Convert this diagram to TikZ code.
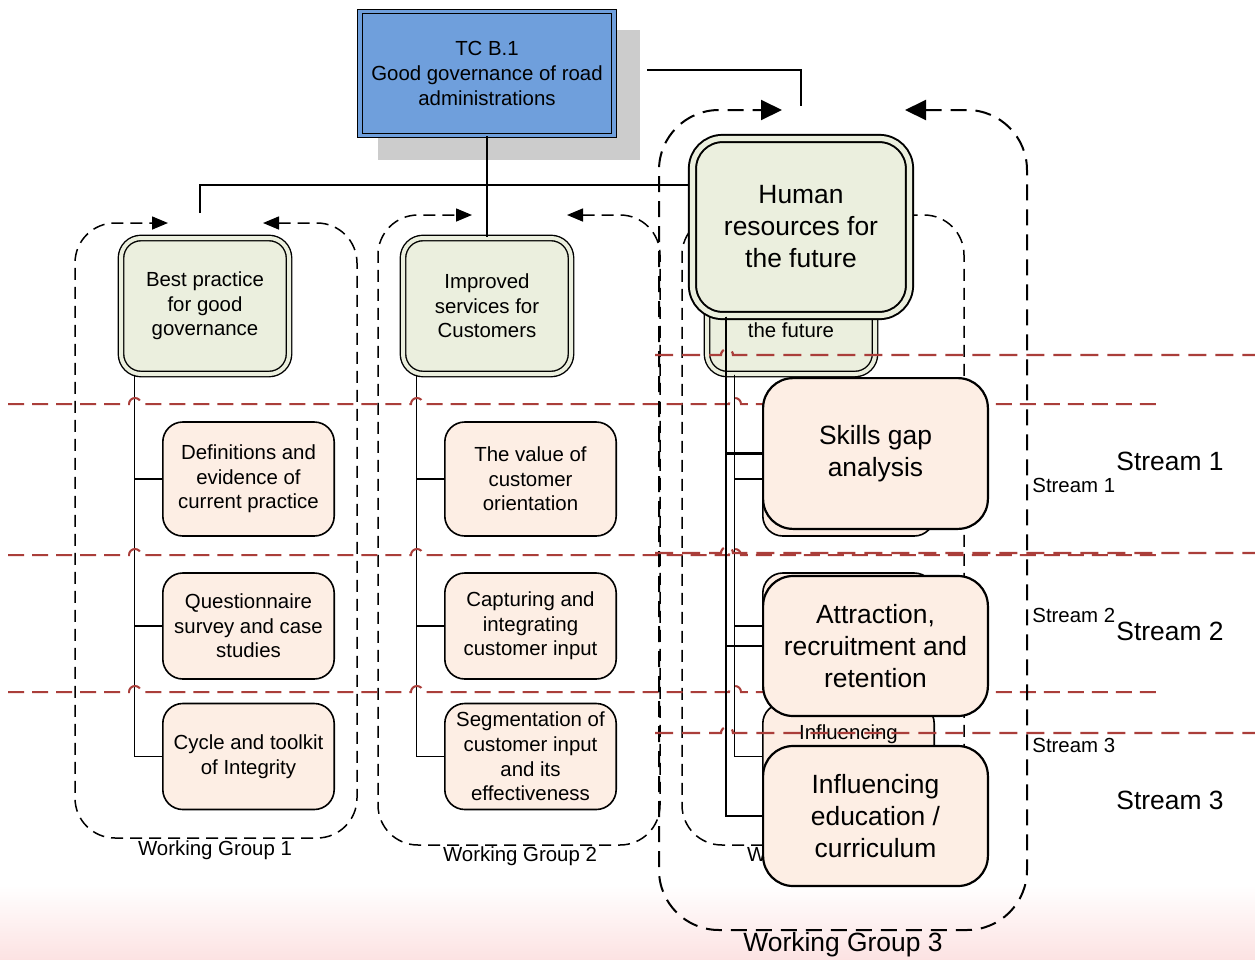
\documentclass[tikz,border=0pt]{standalone}
\usepackage{fontspec}
\setmainfont{Liberation Sans}
\usepackage{tikz}
\usetikzlibrary{positioning,arrows.meta}

\definecolor{tcblue}{RGB}{111,159,220}
\definecolor{headgreen}{RGB}{235,239,222}
\definecolor{taskpeach}{RGB}{253,238,228}
\definecolor{streamred}{RGB}{170,62,58}
\definecolor{shadowgray}{RGB}{204,204,204}
\definecolor{fadepink}{RGB}{252,226,226}

\newcommand{\smalltext}{\fontsize{10.2}{12.3}\selectfont}
\newcommand{\bigtext}{\fontsize{13.2}{16}\selectfont}

\tikzset{
  link/.style={line width=0.8pt},
  biglink/.style={line width=1.3pt},
  tcbox/.style={rectangle, draw, fill=tcblue, double=tcblue, double distance=1.6pt,
    line width=0.6pt, align=center, font=\smalltext, minimum width=127pt,
    minimum height=62pt, inner sep=1pt},
  wghead/.style={rectangle, rounded corners=10pt, draw, fill=headgreen, double=headgreen,
    double distance=2pt, line width=0.7pt, align=center, font=\smalltext,
    minimum width=84pt, minimum height=68pt, inner sep=1pt},
  task/.style={rectangle, rounded corners=10pt, draw, fill=taskpeach, line width=0.8pt,
    align=center, font=\smalltext, minimum width=85.7pt, inner sep=1pt},
  bighead/.style={wghead, rounded corners=15pt, double distance=2.6pt, line width=1pt,
    font=\bigtext, minimum width=108.5pt, minimum height=88.5pt},
  bigtask/.style={task, rounded corners=15pt, line width=1.1pt, font=\bigtext,
    minimum width=112.4pt},
  wgframe/.style={dash pattern=on 6pt off 3.5pt, line width=0.75pt, rounded corners=20pt,
    >={Triangle[length=8pt,width=6.5pt]}, <->},
  bigframe/.style={dash pattern=on 8pt off 4.5pt, line width=1pt, rounded corners=30pt,
    >={Triangle[length=10.5pt,width=10pt]}, <->},
  streamline/.style={draw=streamred, dash pattern=on 8pt off 4pt, line width=1pt},
  bigstreamline/.style={streamline, line width=1.1pt, dash pattern=on 9pt off 4.5pt},
  streamlabel/.style={anchor=west, inner sep=0pt},
}

\begin{document}
\begin{tikzpicture}[x=0.5pt, y=-0.5pt]

  % canvas and faded bottom
  \useasboundingbox (0,0) rectangle (1255,960);
  \fill[white] (0,0) rectangle (1255,960);
  \shade[top color=white, bottom color=fadepink] (0,885) rectangle (1255,960);

  % Top node
  \coordinate (feedA) at (647,70);
  \coordinate (feedB) at (801,106);
  \draw[link] (feedA) -| (feedB);
  \fill[shadowgray] (378,30) rectangle (640,160);
  \node[tcbox] (tc) at (487,73.5) {TC B.1\\Good governance of road\\administrations};

  % Working group 1
  \draw[wgframe] (263,223) -- (357,223) -- (357,838) -- (75,838) -- (75,223) -- (168,223);
  \node[wghead] (best) at (205,306) {Best practice\\for good\\governance};
  \node[task, minimum height=57pt] (defs) at (248.5,479) {Definitions and\\evidence of\\current practice};
  \node[task, minimum height=53pt] (quest) at (248.5,626) {Questionnaire\\survey and case\\studies};
  \node[task, minimum height=53pt] (cycle) at (248.5,756.5) {Cycle and toolkit\\of Integrity};
  \node[font=\smalltext] (wg1) at (215,850) {Working Group 1};

  % Working group 2
  \draw[wgframe] (567,215) -- (660,215) -- (660,845) -- (378,845) -- (378,215) -- (472,215);
  \node[wghead] (improved) at (487,306) {Improved\\services for\\Customers};
  \node[task, minimum height=57pt] (value) at (530.5,479) {The value of\\customer\\orientation};
  \node[task, minimum height=53pt] (capture) at (530.5,626) {Capturing and\\integrating\\customer input};
  \node[task, minimum height=53pt] (segment) at (530.5,756.5) {Segmentation of\\customer input\\and its\\effectiveness};
  \node[font=\smalltext] (wg2) at (520,856) {Working Group 2};

  % Working group 3, small
  \draw[wgframe] (871,215) -- (964,215) -- (964,845) -- (682,845) -- (682,215) -- (776,215);
  \node[wghead] (hrsmall) at (791,306) {Human\\resources for\\the future};
  \node[task, minimum height=57pt] (skillsmall) at (848.5,479) {Skills gap\\analysis};
  \node[task, minimum height=53pt] (attractsmall) at (848.5,626) {Attraction,\\recruitment and\\retention};
  \node[task, minimum height=53pt] (influsmall) at (848.5,756.5) {Influencing\\education /\\curriculum};
  \node[font=\smalltext] (wg3small) at (824,856) {Working Group 3};

  % Connect the nodes
  \coordinate (wg1top) at (200,213);
  \coordinate (busend) at (690,185);
  \draw[link] (tc.south) -- (improved.north);
  \draw[link] (wg1top) |- (busend);
  \draw[link] ([xshift=7pt]best.south west) |- (defs.west);
  \draw[link] ([xshift=7pt]best.south west) |- (quest.west);
  \draw[link] ([xshift=7pt]best.south west) |- (cycle.west);
  \draw[link] ([xshift=7pt]improved.south west) |- (value.west);
  \draw[link] ([xshift=7pt]improved.south west) |- (capture.west);
  \draw[link] ([xshift=7pt]improved.south west) |- (segment.west);
  \draw[link] ([xshift=14pt]hrsmall.south west) |- (skillsmall.west);
  \draw[link] ([xshift=14pt]hrsmall.south west) |- (attractsmall.west);
  \draw[link] ([xshift=14pt]hrsmall.south west) |- (influsmall.west);

  % Stream borders, small
  \draw[streamline] (8,404) -- (129,404) arc[start angle=180, end angle=360, radius=6]
    -- (411,404) arc[start angle=180, end angle=360, radius=6]
    -- (729,404) arc[start angle=180, end angle=360, radius=6] -- (1160,404);
  \draw[streamline] (8,555) -- (129,555) arc[start angle=180, end angle=360, radius=6]
    -- (411,555) arc[start angle=180, end angle=360, radius=6]
    -- (729,555) arc[start angle=180, end angle=360, radius=6] -- (1160,555);
  \draw[streamline] (8,692) -- (129,692) arc[start angle=180, end angle=360, radius=6]
    -- (411,692) arc[start angle=180, end angle=360, radius=6]
    -- (729,692) arc[start angle=180, end angle=360, radius=6] -- (1160,692);
  \node[streamlabel, font=\smalltext] (s1small) at (1032,485) {Stream 1};
  \node[streamlabel, font=\smalltext] (s2small) at (1032,615) {Stream 2};
  \node[streamlabel, font=\smalltext] (s3small) at (1032,745) {Stream 3};

  % Working group 3, zoomed
  \draw[bigframe] (905,110) -- (1027,110) -- (1027,930) -- (659,930) -- (659,110) -- (782,110);
  \draw[bigstreamline] (655,355) -- (721,355) arc[start angle=180, end angle=360, radius=6] -- (1255,355);
  \draw[bigstreamline] (655,553) -- (721,553) arc[start angle=180, end angle=360, radius=6] -- (1255,553);
  \draw[bigstreamline] (655,733) -- (721,733) arc[start angle=180, end angle=360, radius=6] -- (1255,733);
  \node[bighead] (hrbig) at (801,227) {Human\\resources for\\the future};
  \node[bigtask, minimum height=75.4pt] (skillbig) at (875.5,453.5) {Skills gap\\analysis};
  \node[bigtask, minimum height=70pt] (attractbig) at (875.5,646) {Attraction,\\recruitment and\\retention};
  \node[bigtask, minimum height=70pt] (influbig) at (875.5,816) {Influencing\\education /\\curriculum};
  \draw[biglink] ([xshift=17.25pt]hrbig.south west) |- (skillbig.west);
  \draw[biglink] ([xshift=17.25pt]hrbig.south west) |- (attractbig.west);
  \draw[biglink] ([xshift=17.25pt]hrbig.south west) |- (influbig.west);
  \node[font=\bigtext] (wg3big) at (843,945) {Working Group 3};
  \node[streamlabel, font=\bigtext] (s1big) at (1116,461) {Stream 1};
  \node[streamlabel, font=\bigtext] (s2big) at (1116,631) {Stream 2};
  \node[streamlabel, font=\bigtext] (s3big) at (1116,800) {Stream 3};

\end{tikzpicture}
\end{document}
